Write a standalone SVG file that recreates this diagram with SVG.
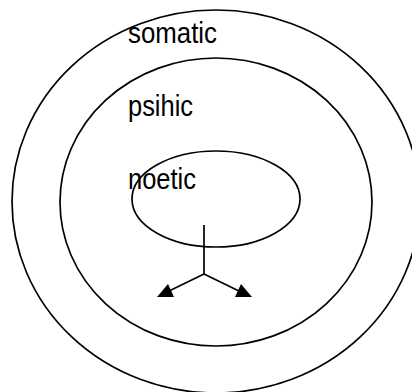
<svg xmlns="http://www.w3.org/2000/svg" width="412" height="392" viewBox="0 0 412 392">
<style>
.ring{fill:none;stroke:#000;stroke-width:1.7}
.lbl{font-family:"Liberation Sans",Arial,sans-serif;font-size:29px;fill:#000}
.ln{stroke:#000;stroke-width:1.7;fill:none}
.head{fill:#000}
</style>
<rect width="412" height="392" fill="#fff"/>
<g id="somatic">
<ellipse class="ring" cx="216" cy="201.5" rx="204" ry="191.5"/>
<text class="lbl" x="128" y="43" textLength="89" lengthAdjust="spacingAndGlyphs">somatic</text>
</g>
<g id="psihic">
<ellipse class="ring" cx="216" cy="202" rx="156" ry="144"/>
<text class="lbl" x="128" y="116" textLength="65" lengthAdjust="spacingAndGlyphs">psihic</text>
</g>
<g id="noetic">
<ellipse class="ring" cx="216" cy="199" rx="84" ry="48"/>
<text class="lbl" x="128" y="189" textLength="68" lengthAdjust="spacingAndGlyphs">noetic</text>
</g>
<g id="connectors">
<path class="ln" d="M204 225 V274 M204 274 L167 292 M204 274 L241 292"/>
<polygon class="head" points="157,297 174,297 168,284"/>
<polygon class="head" points="235,297 252,297 241,284"/>
</g>
</svg>
